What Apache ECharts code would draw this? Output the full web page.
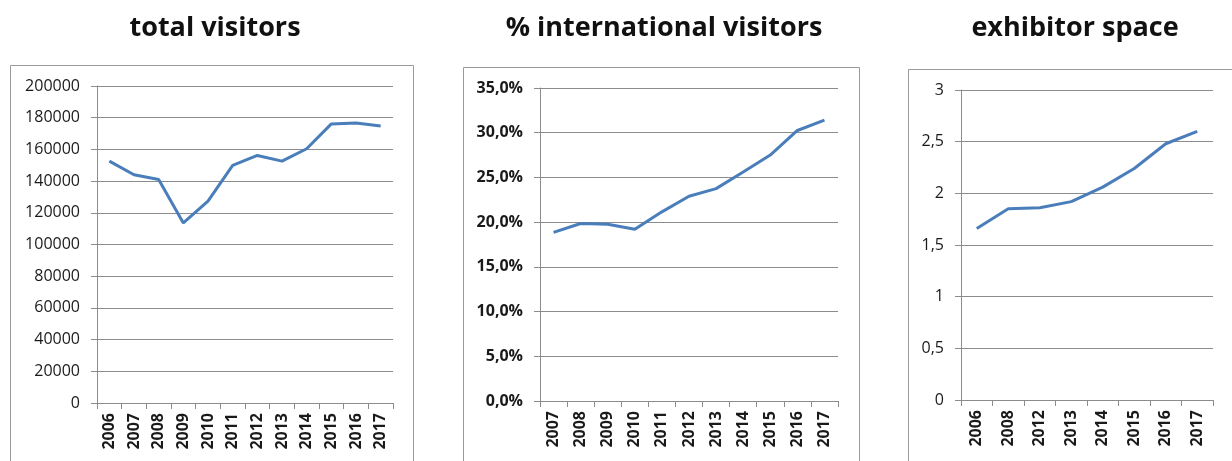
<!DOCTYPE html>
<html>
<head>
<meta charset="utf-8">
<script src="https://cdn.jsdelivr.net/npm/echarts@6/dist/echarts.min.js"></script>
<style>
  html, body { margin: 0; padding: 0; background: #fff; }
  #chart { width: 1232px; height: 461px; }
</style>
</head>
<body>
<div id="chart"></div>
<script>
// Trade fair key figures
const visitorYears = ['2006','2007','2008','2009','2010','2011','2012','2013','2014','2015','2016','2017'];
const totalVisitors = [152600, 144000, 141000, 113600, 127400, 149900, 156200, 152600, 160400, 176100, 176700, 174800];

const intlYears = ['2007','2008','2009','2010','2011','2012','2013','2014','2015','2016','2017'];
const intlShare = [18.85, 19.85, 19.77, 19.2, 21.15, 22.9, 23.75, 25.6, 27.5, 30.25, 31.4];

const spaceYears = ['2006','2008','2012','2013','2014','2015','2016','2017'];
const exhibitorSpace = [1.66, 1.85, 1.86, 1.92, 2.06, 2.24, 2.48, 2.6];

const titles = ['total visitors', '% international visitors', 'exhibitor space'];

const FONT = '"Open Sans", "Liberation Sans", sans-serif';
const LINE = '#4A7EBB';
const GRIDC = '#8c8c8c';
const TEXT = '#1a1a1a';

// panel layout: plot rectangles and surrounding frames
const panels = [
  { left: 97,  top: 86, width: 296, height: 317, titleX: 210,  frame: [10, 65, 403, 420] },
  { left: 540, top: 88, width: 298, height: 313, titleX: 659,  frame: [463, 67, 396, 420] },
  { left: 961, top: 90, width: 252, height: 310, titleX: 1070, frame: [908, 69, 340, 420] }
];

const cats = [visitorYears, intlYears, spaceYears];
const vals = [totalVisitors, intlShare, exhibitorSpace];
const yCfg = [
  { max: 200000, interval: 20000, bold: false, fmt: v => String(v) },
  { max: 35, interval: 5, bold: true, fmt: v => v.toFixed(1).replace('.', ',') + '%' },
  { max: 3, interval: 0.5, bold: false, fmt: v => String(v).replace('.', ',') }
];

const option = {
  animation: false,
  backgroundColor: '#fff',
  title: panels.map((p, i) => ({
    text: titles[i],
    left: p.titleX,
    top: 10,
    textAlign: 'center',
    textStyle: { fontFamily: FONT, fontWeight: 'bold', fontSize: 27, color: '#111' }
  })),
  graphic: panels.map(p => ({
    type: 'rect',
    shape: { x: p.frame[0] + 0.5, y: p.frame[1] + 0.5, width: p.frame[2], height: p.frame[3] },
    style: { fill: 'none', stroke: '#9a9a9a', lineWidth: 1 },
    silent: true,
    z: -1
  })),
  grid: panels.map(p => ({ left: p.left, top: p.top, width: p.width, height: p.height, containLabel: false })),
  xAxis: panels.map((p, i) => ({
    type: 'category',
    gridIndex: i,
    data: cats[i],
    boundaryGap: true,
    axisLine: { lineStyle: { color: GRIDC, width: 1 } },
    axisTick: { show: true, length: 6, alignWithLabel: false, lineStyle: { color: GRIDC } },
    axisLabel: {
      interval: 0, rotate: 90, margin: 10,
      fontFamily: FONT, fontSize: 16, fontWeight: 'bold', color: TEXT
    },
    splitLine: { show: false }
  })),
  yAxis: panels.map((p, i) => ({
    type: 'value',
    gridIndex: i,
    min: 0,
    max: yCfg[i].max,
    interval: yCfg[i].interval,
    axisLine: { show: true, lineStyle: { color: GRIDC, width: 1 } },
    axisTick: { show: true, length: 6, lineStyle: { color: GRIDC } },
    axisLabel: {
      margin: 17,
      fontFamily: FONT, fontSize: 16,
      fontWeight: yCfg[i].bold ? 'bold' : 'normal',
      color: TEXT,
      formatter: yCfg[i].fmt
    },
    splitLine: { show: true, lineStyle: { color: GRIDC, width: 1 } }
  })),
  series: panels.map((p, i) => ({
    type: 'line',
    xAxisIndex: i,
    yAxisIndex: i,
    data: vals[i],
    symbol: 'none',
    smooth: false,
    lineStyle: { color: LINE, width: 3 },
    itemStyle: { color: LINE }
  }))
};

const chart = echarts.init(document.getElementById('chart'), null, { renderer: 'canvas' });
chart.setOption(option);
</script>
</body>
</html>
